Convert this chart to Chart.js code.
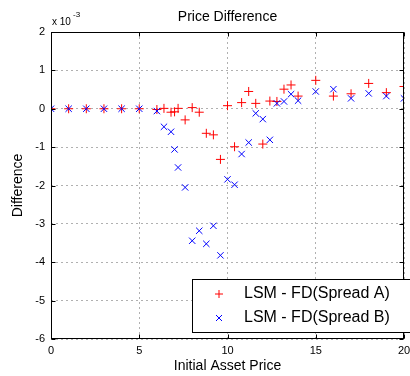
<!DOCTYPE html>
<html><head><meta charset="utf-8">
<script src="https://cdn.jsdelivr.net/npm/chart.js@4/dist/chart.umd.min.js"></script>
<style>html,body{margin:0;padding:0;background:#fff;}</style>
</head><body>
<canvas id="c" width="410" height="376" style="display:block;width:410px;height:376px"></canvas>
<script>
// Data in units of 10^-3 (the axis shows "x 10^-3")
const xValues = [0,1,2,3,4,5,6,6.4,6.8,7,7.2,7.6,8,8.4,8.8,9.2,9.6,10,10.4,10.8,11.2,11.6,12,12.4,12.8,13.2,13.6,14,15,16,17,18,19,20];
const spreadA = [0,0,0,0,0,0,-0.02,0.01,-0.09,-0.08,0.01,-0.29,0.03,-0.09,-0.64,-0.68,-1.32,0.08,-0.99,0.16,0.45,0.14,-0.92,0.20,0.19,0.51,0.62,0.33,0.74,0.33,0.39,0.66,0.42,0.58];
const spreadB = [0,0,0,0,0,0,-0.06,-0.47,-0.60,-1.06,-1.53,-2.05,-3.44,-3.18,-3.52,-3.05,-3.82,-1.84,-1.98,-1.18,-0.88,-0.12,-0.27,-0.81,0.14,0.19,0.38,0.21,0.45,0.51,0.27,0.40,0.33,0.27];
const xTicks = [0,5,10,15,20];
const yTicks = [-6,-5,-4,-3,-2,-1,0,1,2];
const seriesLabels = ['LSM - FD(Spread A)','LSM - FD(Spread B)'];
const titleText = 'Price Difference';
const xTitle = 'Initial Asset Price';
const yTitle = 'Difference';

const FAM = '"Liberation Sans", Arial, Helvetica, sans-serif';
const toPts = ys => xValues.map((x,i)=>({x:x,y:ys[i]}));

const decor = {
  id:'decor',
  afterDraw(chart){
    const ctx = chart.ctx, a = chart.chartArea;
    const xs = chart.scales.x, ys = chart.scales.y;
    const L = Math.round(a.left)+0.5, R = Math.round(a.right)-0.5, T = Math.round(a.top)+0.5, B = Math.round(a.bottom)-0.5;
    ctx.save();
    ctx.strokeStyle = '#000'; ctx.lineWidth = 1; ctx.setLineDash([]);
    ctx.strokeRect(L, T, R-L, B-T);
    // inward tick marks
    ctx.beginPath();
    xTicks.forEach(v=>{ const p = Math.round(xs.getPixelForValue(v))+0.5;
      ctx.moveTo(p,B); ctx.lineTo(p,B-4); ctx.moveTo(p,T); ctx.lineTo(p,T+4); });
    yTicks.forEach(v=>{ const p = Math.round(ys.getPixelForValue(v))+0.5;
      ctx.moveTo(L,p); ctx.lineTo(L+4,p); ctx.moveTo(R,p); ctx.lineTo(R-4,p); });
    ctx.stroke();
    // texts
    ctx.fillStyle = '#000';
    ctx.textAlign = 'center'; ctx.textBaseline = 'middle';
    ctx.font = '14px ' + FAM;
    ctx.fillText(titleText, (a.left+a.right)/2, 17);
    ctx.fillText(xTitle, (a.left+a.right)/2, 366);
    ctx.save();
    ctx.translate(18, (a.top+a.bottom)/2); ctx.rotate(-Math.PI/2);
    ctx.fillText(yTitle, 0, 0);
    ctx.restore();
    ctx.textAlign = 'left';
    ctx.font = '10px ' + FAM;
    ctx.fillText('x 10', 52, 22);
    ctx.font = '8px ' + FAM;
    ctx.fillText('-3', 73, 15);
    // legend
    ctx.fillStyle = '#fff';
    ctx.fillRect(192.5, 279.5, 222, 53);
    ctx.strokeStyle = '#000';
    ctx.strokeRect(192.5, 279.5, 222, 53);
    ctx.lineWidth = 1;
    ctx.strokeStyle = '#ff0000';
    ctx.beginPath(); ctx.moveTo(215,294); ctx.lineTo(223,294); ctx.moveTo(219,290); ctx.lineTo(219,298); ctx.stroke();
    ctx.strokeStyle = '#0000ff';
    ctx.beginPath(); ctx.moveTo(216,315); ctx.lineTo(222,321); ctx.moveTo(222,315); ctx.lineTo(216,321); ctx.stroke();
    ctx.fillStyle = '#000';
    ctx.font = '16px ' + FAM;
    ctx.fillText(seriesLabels[0], 244, 294);
    ctx.fillText(seriesLabels[1], 244, 318);
    ctx.restore();
  }
};

new Chart(document.getElementById('c'), {
  type:'scatter',
  data:{ datasets:[
    { label:seriesLabels[0], data:toPts(spreadA), pointStyle:'cross', radius:4.5, borderColor:'#ff0000', backgroundColor:'#ff0000', borderWidth:1, order:1 },
    { label:seriesLabels[1], data:toPts(spreadB), pointStyle:'crossRot', radius:4.5, borderColor:'#0000ff', backgroundColor:'#0000ff', borderWidth:1, order:0 }
  ]},
  options:{
    responsive:false, animation:false, devicePixelRatio:1,
    layout:{padding:{top:32,right:6,bottom:0,left:0}},
    plugins:{legend:{display:false}, title:{display:false}, tooltip:{enabled:false}},
    events:[],
    scales:{
      x:{ type:'linear', min:0, max:20,
        afterFit(s){ s.height = 37; s.paddingLeft = 0; s.paddingRight = 0; },
        afterBuildTicks(s){ s.ticks = xTicks.map(v=>({value:v})); },
        ticks:{ padding:5, color:'#000', font:{size:11, family:FAM}, maxRotation:0 },
        grid:{ color:'#b0b0b0', drawTicks:false, lineWidth:1 },
        border:{ display:false, dash:[2,3] } },
      y:{ type:'linear', min:-6, max:2,
        afterFit(s){ s.width = 51; s.paddingTop = 0; s.paddingBottom = 0; },
        afterBuildTicks(s){ s.ticks = yTicks.map(v=>({value:v})); },
        ticks:{ padding:6, color:'#000', font:{size:11, family:FAM} },
        grid:{ color:'#b0b0b0', drawTicks:false, lineWidth:1 },
        border:{ display:false, dash:[2,3] } }
    }
  },
  plugins:[decor]
});
</script>
</body></html>
